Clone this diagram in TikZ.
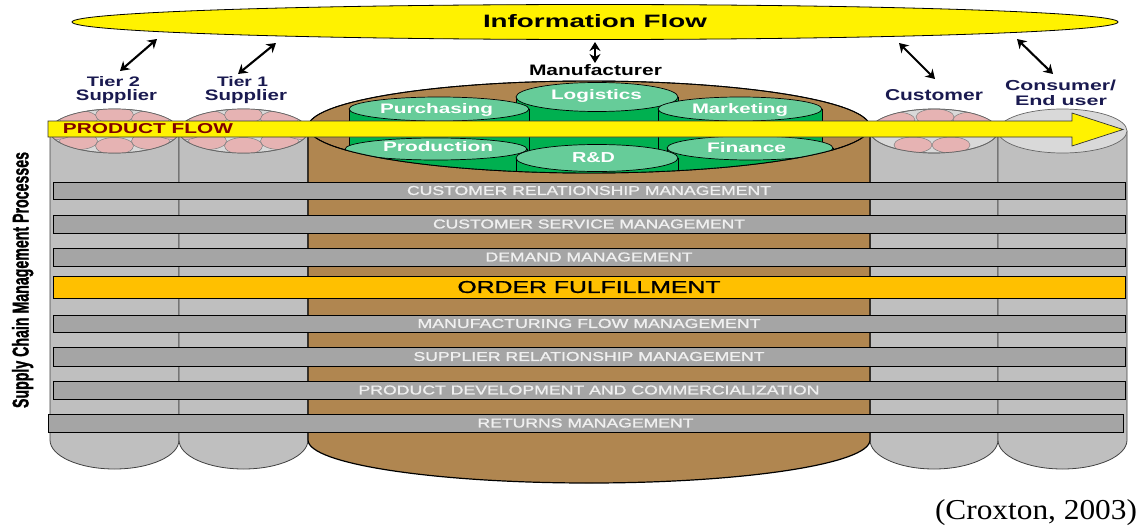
\documentclass[tikz,border=0pt]{standalone}
\usepackage{fontspec}
\usepackage{graphicx}
\setmainfont{Liberation Sans}
\newfontfamily\timesf{Liberation Serif}
\newfontfamily\heavysans[BoldFeatures={FakeBold=1.5}]{Liberation Sans}
\newfontfamily\bandfont[FakeBold=1]{Liberation Sans}
\usetikzlibrary{arrows.meta,shapes.geometric}
\definecolor{brownc}{HTML}{B08650}
\definecolor{bodygray}{HTML}{BFBFBF}
\definecolor{bandgray}{HTML}{A5A5A5}
\definecolor{topgray}{HTML}{D9D9D9}
\definecolor{orangec}{HTML}{FFC000}
\definecolor{greentop}{HTML}{66CC99}
\definecolor{greenbody}{HTML}{00B050}
\definecolor{pinkc}{HTML}{E6B3B3}
\definecolor{navyc}{HTML}{1A1A50}
\definecolor{bandtext}{HTML}{F0F0F0}
\definecolor{flowred}{HTML}{7F0000}
\newcommand{\fitbox}[3]{\resizebox{#1pt}{#2pt}{#3}}
\tikzset{
  band/.style={draw=black, fill=bandgray, line width=0.8pt, inner sep=0pt, text=bandtext, minimum width=1072pt, font=\bandfont},
  lbl/.style={inner sep=0pt, anchor=base, text=navyc, font=\bfseries},
  glbl/.style={inner sep=0pt, anchor=base, text=white, font=\bfseries},
  pink/.style={fill=pinkc, draw=gray, line width=0.5pt},
  gtop/.style={fill=topgray, draw=gray!80!black, line width=0.7pt},
  gbody/.style={fill=bodygray, draw=black!75, line width=0.8pt},
  grcyl/.style={fill=greenbody, draw=black, line width=0.7pt},
  grtop/.style={fill=greentop, draw=black, line width=0.7pt},
  infarrow/.style={<->, line width=2.1pt, >={Stealth[length=9pt,width=11pt]}}
}
\begin{document}
\begin{tikzpicture}[x=1pt,y=-1pt]
\useasboundingbox (0,0) rectangle (1140,527);
% gray cylinder bodies
\foreach \xa/\xb in {50/179,179/308,870/998,998/1127}{
  \filldraw[gbody] (\xa,131) -- (\xa,440) arc[start angle=180,end angle=0,x radius={(\xb-\xa)/2},y radius=29] -- (\xb,131) -- cycle;
}
% brown body
\filldraw[fill=brownc, draw=black, line width=1.2pt] (308,127) -- (308,440) arc[start angle=180,end angle=0,x radius=281,y radius=43] -- (870,127) -- cycle;
% gray tops with pink circles
\foreach \cx in {114.5,243.5}{
  \filldraw[gtop] (\cx,131) ellipse[x radius=64.5, y radius=22];
  \begin{scope}
    \clip (\cx,131) ellipse[x radius=64.5, y radius=22];
    \foreach \dx/\dy in {-36/-12,0/-16,36/-12,-36/10,0/15,36/10,-60/0,60/0}{
      \filldraw[pink] (\cx+\dx,131+\dy) ellipse[x radius=19, y radius=8.5];
    }
  \end{scope}
  \draw[gtop, fill=none] (\cx,131) ellipse[x radius=64.5, y radius=22];
}
\filldraw[gtop] (934,131) ellipse[x radius=64, y radius=22];
\begin{scope}
  \clip (934,131) ellipse[x radius=64, y radius=22];
  \foreach \dx/\dy in {-38/-11,1/-14,38/-11,-21/14,17/14}{
    \filldraw[pink] (934+\dx,131+\dy) ellipse[x radius=19, y radius=8];
  }
\end{scope}
\draw[gtop, fill=none] (934,131) ellipse[x radius=64, y radius=22];
\filldraw[gtop] (1062.5,131) ellipse[x radius=64.5, y radius=22];
% brown top
\filldraw[fill=brownc, draw=black, line width=0.9pt] (589,127) ellipse[x radius=281, y radius=46];
\begin{scope}
  \clip (589,127) ellipse[x radius=281, y radius=46];
  \foreach \cx/\cy/\rx/\ry in {597/97/81/14.5, 439/109/90/12, 740/109/82/12, 436/149/91/11, 750/148/83/12, 597/158/81/13.5}{
    \filldraw[grcyl] (\cx-\rx,\cy) rectangle (\cx+\rx,200);
    \filldraw[grtop] (\cx,\cy) ellipse[x radius=\rx, y radius=\ry];
  }
\end{scope}
\draw[black, line width=0.9pt] (589,127) ellipse[x radius=281, y radius=46];
% green labels
\node[glbl] (purch) at (436.5,113) {\fitbox{113}{10}{Purchasing}};
\node[glbl] (logis) at (596.5,99) {\fitbox{91}{10}{Logistics}};
\node[glbl] (mark) at (740,113) {\fitbox{96}{10}{Marketing}};
\node[glbl] (prod) at (438,151) {\fitbox{110}{10}{Production}};
\node[glbl] (rnd) at (593.5,162) {\fitbox{43}{10}{R\&D}};
\node[glbl] (fin) at (746.5,152) {\fitbox{79}{10}{Finance}};
% product flow arrow
\filldraw[fill=yellow, draw=black!80, line width=0.7pt] (48,121) -- (1072,121) -- (1072,113) -- (1123,129.5) -- (1072,146) -- (1072,137) -- (48,137) -- cycle;
\node[inner sep=0pt, text=flowred, font=\bfseries] (pflow) at (148,129) {\fitbox{170}{10}{PRODUCT FLOW}};
% bands
\node[band, minimum height=17pt] (b1) at (589,190.5) {\fitbox{364}{9}{CUSTOMER RELATIONSHIP MANAGEMENT}};
\node[band, minimum height=18pt] (b2) at (589,224) {\fitbox{312}{9}{CUSTOMER SERVICE MANAGEMENT}};
\node[band, minimum height=18pt] (b3) at (589,257) {\fitbox{207}{9}{DEMAND MANAGEMENT}};
\node[band, fill=orangec, text=black, minimum height=22pt] (b4) at (589,287) {\fitbox{263}{12}{ORDER FULFILLMENT}};
\node[band, minimum height=17pt] (b5) at (589,323.5) {\fitbox{343}{9}{MANUFACTURING FLOW MANAGEMENT}};
\node[band, minimum height=19pt] (b6) at (589,356.5) {\fitbox{351}{9}{SUPPLIER RELATIONSHIP MANAGEMENT}};
\node[band, minimum height=18pt] (b7) at (589,390) {\fitbox{461}{9}{PRODUCT DEVELOPMENT AND COMMERCIALIZATION}};
\node[band, minimum height=18pt, minimum width=1075pt] (b8) at (585.5,423) {\fitbox{216}{9}{RETURNS MANAGEMENT}};
% information flow
\node[ellipse, draw=black, fill=yellow, line width=0.8pt, minimum width=1046pt, minimum height=35pt, inner sep=0pt] (info) at (595,22) {};
\node[inner sep=0pt, font=\bfseries] (infot) at (595,21) {\fitbox{224}{13}{Information Flow}};
% labels
\node[lbl] (t2a) at (113.5,86) {\fitbox{53}{10}{Tier 2}};
\node[lbl] (t2b) at (116.5,100.5) {\fitbox{81}{11}{Supplier}};
\node[lbl] (t1a) at (242.5,86) {\fitbox{51}{10}{Tier 1}};
\node[lbl] (t1b) at (246,100.5) {\fitbox{82}{11}{Supplier}};
\node[lbl, text=black] (manu) at (595.5,75) {\fitbox{133}{11}{Manufacturer}};
\node[lbl] (cust) at (934,100) {\fitbox{98}{11}{Customer}};
\node[lbl] (cons) at (1060.5,90) {\fitbox{111}{10.5}{Consumer/}};
\node[lbl] (endu) at (1061,105) {\fitbox{92}{10}{End user}};
% info arrows
\coordinate (a1s) at (157,39); \coordinate (a1e) at (120,71);
\coordinate (a2s) at (276,43); \coordinate (a2e) at (238,74);
\coordinate (a3s) at (595,42); \coordinate (a3e) at (595,63);
\coordinate (a4s) at (899,43); \coordinate (a4e) at (935,79);
\coordinate (a5s) at (1017,39); \coordinate (a5e) at (1053,74);
\draw[infarrow] (a1s) -- (a1e);
\draw[infarrow] (a2s) -- (a2e);
\draw[infarrow] (a3s) -- (a3e);
\draw[infarrow] (a4s) -- (a4e);
\draw[infarrow] (a5s) -- (a5e);
% side label
\node[inner sep=0pt, rotate=90, anchor=base, font=\heavysans\bfseries] (scmp) at (28.5,280) {\fitbox{256}{16.5}{Supply Chain Management Processes}};
% citation
\node[inner sep=0pt, anchor=base, font=\timesf] (cite) at (1036,519) {\fitbox{202}{20}{(Croxton, 2003)}};
\end{tikzpicture}
\end{document}
